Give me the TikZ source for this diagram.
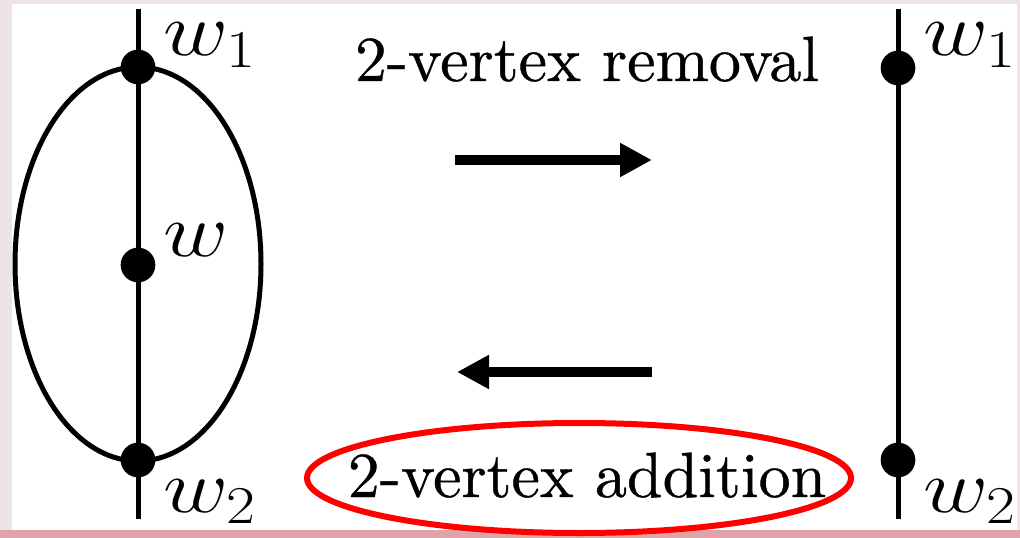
\RequirePackage{fix-cm}
\documentclass[tikz,border=0pt]{standalone}
\usepackage{fontspec}
\usetikzlibrary{arrows.meta}

\newfontfamily\capfont{lmroman10-regular.otf}[FakeBold=0.6]

\definecolor{framegray}{HTML}{EEE4E6}
\definecolor{stripred}{HTML}{DFA4AA}
\definecolor{markred}{HTML}{FF0000}

\newcommand{\wlbl}[1]{\scalebox{1.18}[1]{$#1$}}

\tikzset{every picture/.style={line width=3.75pt}}
\tikzset{
  vertex/.style={circle,fill=black,inner sep=0pt,minimum size=26pt},
  vlabel/.style={anchor=base west,inner sep=0.75pt,font=\fontsize{57}{66}\selectfont},
  caption/.style={anchor=base,inner sep=0.75pt,font=\capfont\fontsize{48}{58}\selectfont},
  bigarrow/.style={-{Triangle[length=24pt,width=24pt]},line width=8pt}
}

\begin{document}
\begin{tikzpicture}[x=0.75pt,y=0.75pt,yscale=-1,xscale=1]
        \useasboundingbox (0,0) rectangle (1020,538);

        % slide background
        \fill[framegray] (0,0) rectangle (1020,538);
        \fill[white] (12,4) rectangle (1017,530);
        \fill[stripred] (0,530) rectangle (1020,538);

        %Left graph: ellipse through w1 and w2
        \draw (138,264) ellipse [x radius=123, y radius=197];
        \coordinate (ltop) at (138,9);
        \coordinate (lbot) at (138,519);
        \draw (ltop) -- (lbot);
        \node[vertex] (lw1) at (138,67) {};
        \node[vertex] (lw) at (138,265) {};
        \node[vertex] (lw2) at (138,460) {};

        % Text Node
        \node[vlabel] (lw1lbl) at (160,56) {\wlbl{w_1}};
        % Text Node
        \node[vlabel] (lwlbl) at (160,257) {\wlbl{w}};
        % Text Node
        \node[vlabel] (lw2lbl) at (160,512) {\wlbl{w_2}};

        %Right graph
        \coordinate (rtop) at (898,9);
        \coordinate (rbot) at (898,519);
        \draw (rtop) -- (rbot);
        \node[vertex] (rw1) at (898,68) {};
        \node[vertex] (rw2) at (898,460) {};

        % Text Node
        \node[vlabel] (rw1lbl) at (920,56) {\wlbl{w_1}};
        % Text Node
        \node[vlabel] (rw2lbl) at (920,512) {\wlbl{w_2}};

        %Arrows
        \coordinate (remfrom) at (455,160);
        \coordinate (remto) at (652,160);
        \draw[bigarrow] (remfrom) -- (remto);
        \coordinate (addfrom) at (652,372);
        \coordinate (addto) at (457,372);
        \draw[bigarrow] (addfrom) -- (addto);

        % Text Node
        \node[caption] (rem) at (587,81) {2-vertex removal};
        % Text Node
        \node[caption] (add) at (587,497) {2-vertex addition};

        %Shape: Ellipse round the addition label
        \draw[markred, line width=4.5pt] (579,478) ellipse [x radius=272, y radius=55];

\end{tikzpicture}
\end{document}
